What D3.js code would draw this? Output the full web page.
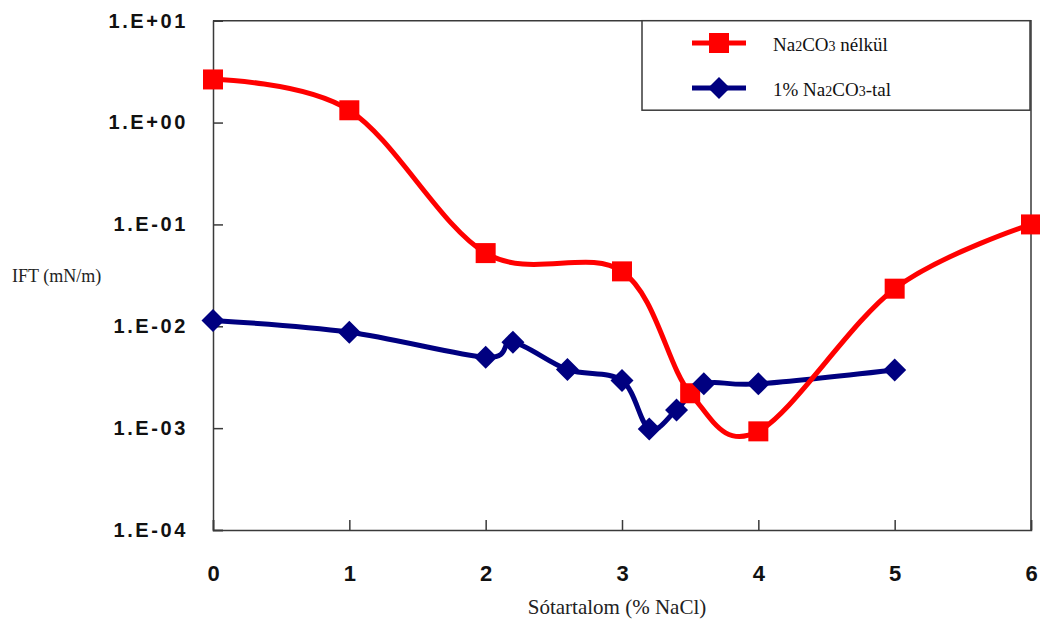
<!DOCTYPE html>
<html>
<head>
<meta charset="utf-8">
<script src="https://cdn.jsdelivr.net/npm/d3@7"></script>
<style>
  html, body { margin: 0; padding: 0; background: #fff; }
  svg { display: block; }
</style>
</head>
<body>
<svg id="chart" width="1040" height="622"></svg>
<script>
// Salt content (% NaCl) and interfacial tension (mN/m)
const xNoCarbonate = [0, 1, 2, 3, 3.5, 4, 5, 6];
const iftNoCarbonate = [2.65, 1.32, 0.0523, 0.0346, 0.0022, 0.00093, 0.0234, 0.1];

const xWithCarbonate = [0, 1, 2, 2.2, 2.6, 3, 3.2, 3.4, 3.6, 4, 5];
const iftWithCarbonate = [0.0114, 0.00875, 0.00497, 0.00698, 0.00376, 0.00293, 0.00098, 0.00151, 0.00272, 0.00272, 0.00373];

const xTicks = [0, 1, 2, 3, 4, 5, 6];
const yTicks = [1e-4, 1e-3, 1e-2, 1e-1, 1, 10];
const yTickLabels = ["1.E-04", "1.E-03", "1.E-02", "1.E-01", "1.E+00", "1.E+01"];

const svg = d3.select("#chart");
const plotLeft = 213, plotRight = 1031, plotTop = 20.7, plotBottom = 530;

const x = d3.scaleLinear().domain([0, 6]).range([plotLeft, plotRight]);
const y = d3.scaleLog().domain([1e-4, 10]).range([plotBottom, plotTop]);

const axisColor = "#3a3a3a";

// plot frame (top and right edges)
svg.append("path")
  .attr("d", `M${plotLeft},${plotTop}H${plotRight}V${plotBottom}`)
  .attr("fill", "none")
  .attr("stroke", axisColor)
  .attr("stroke-width", 1.5);

// y axis (log)
const yAxis = svg.append("g")
  .attr("transform", `translate(${plotLeft},0)`)
  .call(d3.axisLeft(y)
    .tickValues(yTicks)
    .tickFormat((d, i) => yTickLabels[i])
    .tickSize(-10)
    .tickPadding(25));
yAxis.select(".domain").attr("stroke", axisColor).attr("stroke-width", 1.5);
yAxis.selectAll(".tick line").attr("stroke", axisColor).attr("stroke-width", 1.5);
yAxis.selectAll(".tick text")
  .attr("fill", "#111")
  .style("font-family", "'Liberation Sans', Arial, sans-serif")
  .style("font-weight", "bold")
  .style("font-size", "20px")
  .style("letter-spacing", "2.6px");

// x axis
const xAxis = svg.append("g")
  .attr("transform", `translate(0,${plotBottom})`)
  .call(d3.axisBottom(x)
    .tickValues(xTicks)
    .tickFormat(d3.format("d"))
    .tickSize(-10)
    .tickPadding(35));
xAxis.select(".domain").attr("stroke", axisColor).attr("stroke-width", 1.5);
xAxis.selectAll(".tick line").attr("stroke", axisColor).attr("stroke-width", 1.5);
xAxis.selectAll(".tick text")
  .attr("fill", "#111")
  .style("font-family", "'Liberation Sans', Arial, sans-serif")
  .style("font-weight", "bold")
  .style("font-size", "22px");

// axis titles
svg.append("text")
  .attr("x", 617).attr("y", 614)
  .attr("text-anchor", "middle")
  .style("font-family", "'Liberation Serif', 'Times New Roman', serif")
  .style("font-size", "21px")
  .attr("fill", "#222")
  .text("Sótartalom (% NaCl)");

svg.append("text")
  .attr("x", 12).attr("y", 282)
  .style("font-family", "'Liberation Serif', 'Times New Roman', serif")
  .style("font-size", "18px")
  .attr("fill", "#222")
  .text("IFT (mN/m)");

// smoothed lines
const curve = d3.curveCardinal.tension(0);
const lineGen = d3.line().x(d => x(d[0])).y(d => y(d[1])).curve(curve);

const redData = xNoCarbonate.map((v, i) => [v, iftNoCarbonate[i]]);
const blueData = xWithCarbonate.map((v, i) => [v, iftWithCarbonate[i]]);

const red = "#ff0000", blue = "#000080";

svg.append("path").datum(blueData)
  .attr("d", lineGen).attr("fill", "none")
  .attr("stroke", blue).attr("stroke-width", 5).attr("stroke-linejoin", "round");

svg.append("path").datum(redData)
  .attr("d", lineGen).attr("fill", "none")
  .attr("stroke", red).attr("stroke-width", 5).attr("stroke-linejoin", "round");

// markers
const sq = 20, dm = 11.5;
svg.selectAll(".sq").data(redData).join("rect")
  .attr("x", d => x(d[0]) - sq / 2).attr("y", d => y(d[1]) - sq / 2)
  .attr("width", sq).attr("height", sq).attr("fill", red);

const diamond = (cx, cy, r) => `M${cx},${cy - r}L${cx + r},${cy}L${cx},${cy + r}L${cx - r},${cy}Z`;
svg.selectAll(".dm").data(blueData).join("path")
  .attr("d", d => diamond(x(d[0]), y(d[1]), dm)).attr("fill", blue);

// legend
const lg = svg.append("g");
lg.append("rect")
  .attr("x", 642).attr("y", plotTop).attr("width", 388).attr("height", 89.5)
  .attr("fill", "#fff").attr("stroke", axisColor).attr("stroke-width", 1.5);

const legendFont = "'Liberation Serif', 'Times New Roman', serif";
const items = [
  { y: 43, color: red, kind: "sq", parts: [["Na", 0], ["2", 1], ["CO", 0], ["3", 1], [" nélkül", 0]] },
  { y: 88, color: blue, kind: "dm", parts: [["1% Na", 0], ["2", 1], ["CO", 0], ["3", 1], ["-tal", 0]] }
];
items.forEach(it => {
  lg.append("line").attr("x1", 692).attr("x2", 746).attr("y1", it.y).attr("y2", it.y)
    .attr("stroke", it.color).attr("stroke-width", 5);
  if (it.kind === "sq") {
    lg.append("rect").attr("x", 719 - 10).attr("y", it.y - 10).attr("width", 20).attr("height", 20).attr("fill", it.color);
  } else {
    lg.append("path").attr("d", diamond(719, it.y, 11)).attr("fill", it.color);
  }
  const t = lg.append("text").attr("x", 773).attr("y", it.y + 8)
    .style("font-family", legendFont).style("font-size", "19px").attr("fill", "#111");
  it.parts.forEach(p => {
    t.append("tspan").style("font-size", p[1] ? "14px" : "19px").text(p[0]);
  });
});
</script>
</body>
</html>
